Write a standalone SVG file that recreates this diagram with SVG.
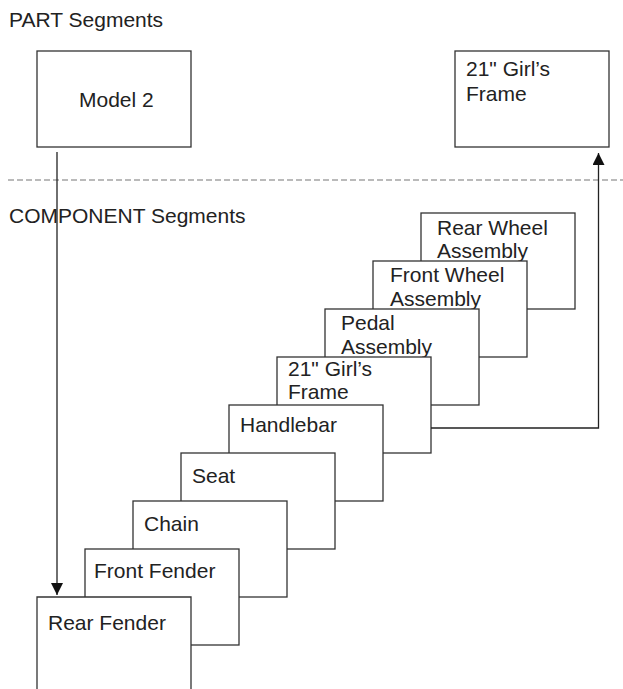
<svg xmlns="http://www.w3.org/2000/svg" width="623" height="689" viewBox="0 0 623 689">
<style>
text{font-family:"Liberation Sans",Arial,sans-serif;font-size:21px;fill:#222}
.box{fill:#fff;stroke:#333;stroke-width:1.3}
.ln{fill:none;stroke:#222;stroke-width:1.3}
</style>
<defs>
<marker id="ah" markerWidth="12" markerHeight="12" refX="12" refY="6" orient="auto" markerUnits="userSpaceOnUse" viewBox="0 0 12 12">
<path d="M0,0 L12,6 L0,12 Z" fill="#111"/>
</marker>
</defs>
<rect width="623" height="689" fill="#fff"/>
<text x="9" y="27">PART Segments</text>
<line x1="8" y1="180" x2="623" y2="180" stroke="#777" stroke-width="1.2" stroke-dasharray="6,3"/>
<text x="9" y="223">COMPONENT Segments</text>
<g id="model2"><rect class="box" x="37" y="51" width="154" height="96"/><text x="79" y="107">Model 2</text></g>
<g id="frame-part"><rect class="box" x="455" y="51" width="154" height="96"/><text x="466" y="76">21" Girl’s</text><text x="466" y="101">Frame</text></g>
<g id="rear-wheel"><rect class="box" x="421" y="213" width="154" height="96"/><text x="437" y="235">Rear Wheel</text><text x="437" y="258">Assembly</text></g>
<g id="front-wheel"><rect class="box" x="373" y="261" width="154" height="96"/><text x="390" y="282">Front Wheel</text><text x="390" y="306">Assembly</text></g>
<g id="pedal"><rect class="box" x="325" y="309" width="154" height="96"/><text x="341" y="330">Pedal</text><text x="341" y="354">Assembly</text></g>
<g id="frame-comp"><rect class="box" x="277" y="357" width="154" height="96"/><text x="288" y="376">21" Girl’s</text><text x="288" y="399">Frame</text></g>
<g id="handlebar"><rect class="box" x="229" y="405" width="154" height="96"/><text x="240" y="432">Handlebar</text></g>
<g id="seat"><rect class="box" x="181" y="453" width="154" height="96"/><text x="192" y="483">Seat</text></g>
<g id="chain"><rect class="box" x="133" y="501" width="154" height="96"/><text x="144" y="531">Chain</text></g>
<g id="front-fender"><rect class="box" x="85" y="549" width="154" height="96"/><text x="94" y="578">Front Fender</text></g>
<g id="rear-fender"><path class="box" d="M37,700 V597 H191 V700"/><text x="48" y="630">Rear Fender</text></g>
<g id="connectors">
<path class="ln" d="M57,152 V595" marker-end="url(#ah)"/>
<path class="ln" d="M431,428 H598.5 V153" marker-end="url(#ah)"/>
</g>
</svg>
